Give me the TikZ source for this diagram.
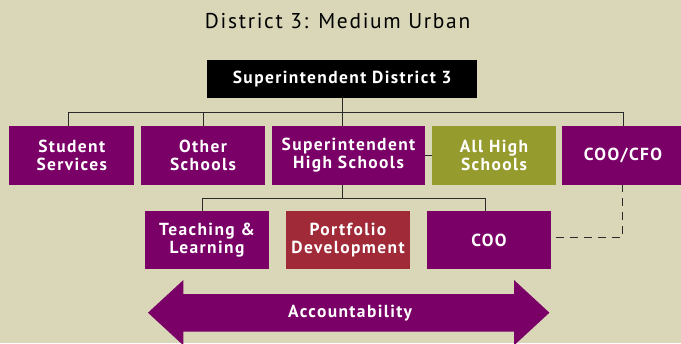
\documentclass[tikz,border=0pt]{standalone}
\usepackage{fontspec}
\setmainfont{PT Sans}[LetterSpace=8]
\definecolor{bg}{HTML}{D9D7B8}
\definecolor{plum}{HTML}{7A0068}
\definecolor{olive}{HTML}{969B2E}
\definecolor{wine}{HTML}{A12A39}
\definecolor{linec}{HTML}{2A2A2A}
\tikzset{
  box/.style={fill=plum, text=white, inner sep=0pt, align=center,
    font=\fontsize{17.5}{18.3}\selectfont\bfseries, minimum height=58.5bp},
  conn/.style={draw=linec, line width=0.9bp},
}
\begin{document}
\begin{tikzpicture}[x=1bp,y=-1bp]
\useasboundingbox (0,0) rectangle (681,343);
\fill[bg] (0,0) rectangle (681,343);
\node[anchor=base, font=\fontsize{21.5}{24}\selectfont] (title) at (337.6,28.3) {District 3: Medium Urban};
\node[box, fill=black, minimum width=270bp, minimum height=38bp] (top) at (342.2,79) {Superintendent District 3};
\node[box, minimum width=124.5bp] (SS) at (71.75,155.25) {Student\\Services};
\node[box, minimum width=124bp] (OS) at (203,155.25) {Other\\Schools};
\node[box, minimum width=153bp] (SHS) at (348.5,155.25) {Superintendent\\High Schools};
\node[box, fill=olive, minimum width=124bp] (AHS) at (494,155.25) {All High\\Schools};
\node[box, minimum width=122bp] (CFO) at (623,155.25) {COO/CFO};
\node[box, minimum width=124bp, minimum height=58bp] (TL) at (207,240) {Teaching \&\\Learning};
\node[box, fill=wine, minimum width=124bp, minimum height=58bp] (PD) at (348,240) {Portfolio\\Development};
\node[box, minimum width=124bp, minimum height=58bp] (COO) at (489,240) {COO};
\coordinate (b1) at (0,112);
\coordinate (b2) at (0,198.3);
\draw[conn] ([xshift=-3bp]SS.north) -- ([xshift=-3bp]SS.north |- b1) -- (CFO.north |- b1) -- (CFO.north);
\draw[conn] (OS.north) -- (OS.north |- b1);
\draw[conn] (top.south) -- (top.south |- SHS.north);
\draw[conn] (SHS.east) -- (AHS.west);
\draw[conn] (top.south |- SHS.south) -- (top.south |- b2);
\draw[conn] ([xshift=-4.5bp]TL.north) -- ([xshift=-4.5bp]TL.north |- b2) -- ([xshift=-3.5bp]COO.north |- b2) -- ([xshift=-3.5bp]COO.north);
\draw[conn, dash pattern=on 8bp off 6bp] ([xshift=4.5bp,yshift=2.5bp]COO.east) -| ([xshift=-1bp]CFO.south);
\fill[plum] (148,312.7) -- (183.4,280) -- (183.4,294) -- (514,294) -- (514,280) -- (549.4,312.7)
  -- (514,345.4) -- (514,331.7) -- (183.4,331.7) -- (183.4,345.4) -- cycle;
\node[text=white, font=\fontsize{17.5}{18.3}\selectfont\bfseries] (acc) at (350,312.7) {Accountability};
\end{tikzpicture}
\end{document}
